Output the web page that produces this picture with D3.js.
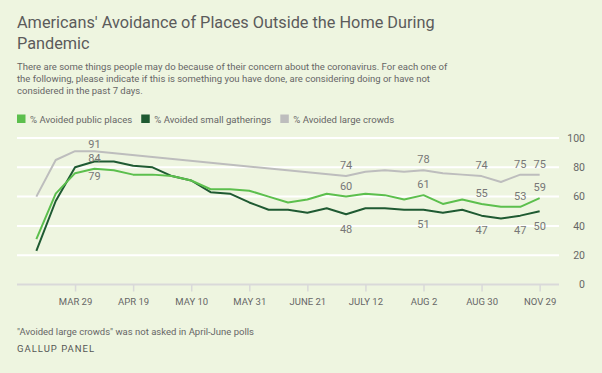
<!DOCTYPE html>
<html>
<head>
<meta charset="utf-8">
<script src="https://cdn.jsdelivr.net/npm/d3@7"></script>
<style>
  body { margin: 0; background: #eef5e0; }
  svg { display: block; font-family: Roboto, "Noto Sans", sans-serif; }
</style>
</head>
<body>
<div id="chart"></div>
<script>
const width = 602,
height = 373,
plot = { left: 17, right: 559, top: 138, bottom: 284.5 };

// poll waves (only some are shown as ticks)
const waves = ["MAR 15", "MAR 22", "MAR 29", "APR 5", "APR 12", "APR 19", "APR 26", "MAY 3", "MAY 10",
  "MAY 17", "MAY 24", "MAY 31", "JUNE 7", "JUNE 14", "JUNE 21", "JUNE 28", "JULY 5", "JULY 12",
  "JULY 19", "JULY 26", "AUG 2", "AUG 9", "AUG 16", "AUG 30", "SEP 27", "OCT 25", "NOV 29"];
const tickWaves = ["MAR 29", "APR 19", "MAY 10", "MAY 31", "JUNE 21", "JULY 12", "AUG 2", "AUG 30", "NOV 29"];
const yTicks = [0, 20, 40, 60, 80, 100];

const publicPlaces = [31, 62, 76, 79, 78, 75, 75, 74, 71, 65, 65, 64, 60, 56, 58, 62, 60, 62, 61, 58, 61, 55, 58, 55, 53, 53, 59];
const smallGatherings = [23, 57, 80, 84, 84, 81, 80, 74, 71, 63, 62, 56, 51, 51, 49, 52, 48, 52, 52, 51, 51, 49, 51, 47, 45, 47, 50];
// large crowds not asked in April-June polls
const largeCrowds = [60, 85, 91, 91, null, null, null, null, null, null, null, null, null, null, null, null,
  74, 77, 78, 77, 78, 76, 75, 74, 70, 75, 75];

// waves that carry value labels
const labelledWaves = ["APR 5", "JULY 5", "AUG 2", "AUG 30", "OCT 25", "NOV 29"];

const series = [
  { name: "% Avoided public places", values: publicPlaces, color: "#5cbf4d" },
  { name: "% Avoided small gatherings", values: smallGatherings, color: "#1f5a32" },
  { name: "% Avoided large crowds", values: largeCrowds, color: "#bdbdbd" }];

const svg = d3.select("#chart").
append("svg").
attr("width", width).
attr("height", height);

svg.append("rect").
attr("width", width).
attr("height", height).
attr("fill", "#eef5e0");

const x = d3.scalePoint().
domain(waves).
range([plot.left, plot.right]).
padding(1);

const y = d3.scaleLinear().
domain([0, 100]).
range([plot.bottom, plot.top]);

// title + subtitle
svg.append("text").
attr("x", 17).attr("y", 28).
attr("fill", "#5b5b5b").
style("font-size", "16.3px").
text("Americans' Avoidance of Places Outside the Home During");
svg.append("text").
attr("x", 17).attr("y", 48.5).
attr("fill", "#5b5b5b").
style("font-size", "16.3px").
text("Pandemic");

const subtitle = ["There are some things people may do because of their concern about the coronavirus. For each one of",
  "the following, please indicate if this is something you have done, are considering doing or have not",
  "considered in the past 7 days."];
svg.append("g").selectAll("text").
data(subtitle).
join("text").
attr("x", 17).
attr("y", (d, i) => 69.5 + i * 12.2).
attr("fill", "#666").
style("font-size", "9.5px").
text(d => d);

// legend
const legend = svg.append("g").attr("transform", "translate(17,119)");
let lx = 0;
series.forEach(s => {
  legend.append("rect").
  attr("x", lx).attr("y", -4.5).
  attr("width", 8.5).attr("height", 8.5).
  attr("fill", s.color);
  const t = legend.append("text").
  attr("x", lx + 13).attr("y", 3.5).
  attr("fill", "#666").
  style("font-size", "9.6px").
  text(s.name);
  lx += 13 + t.node().getComputedTextLength() + 9;
});

// grid
svg.append("g").selectAll("line").
data(yTicks.filter(d => d > 0)).
join("line").
attr("x1", plot.left).attr("x2", plot.right).
attr("y1", d => y(d)).attr("y2", d => y(d)).
attr("stroke", "#fff").
attr("stroke-width", 2);

// y labels on the right
svg.append("g").selectAll("text").
data(yTicks).
join("text").
attr("x", 585).
attr("y", d => y(d) + 3.8).
attr("text-anchor", "end").
attr("fill", "#666").
style("font-size", "10.5px").
text(d => d);

// x axis
const xAxis = svg.append("g").
attr("transform", `translate(0,${plot.bottom})`).
call(d3.axisBottom(x).tickValues(tickWaves).tickSize(7).tickPadding(7));
xAxis.select(".domain").remove();
xAxis.insert("line", ":first-child").
attr("x1", plot.left).attr("x2", plot.right).
attr("stroke", "#d9d9d9").
attr("stroke-width", 2);
xAxis.selectAll(".tick line").attr("stroke", "#d9d9d9").attr("stroke-width", 1.5);
xAxis.selectAll(".tick text").
attr("fill", "#666").
style("font-size", "9.5px").
style("font-family", "Roboto, sans-serif");

// lines
const line = d3.line().
defined(d => d.v != null).
x(d => x(d.w)).
y(d => y(d.v));

series.slice().reverse().forEach(s => {
  const pts = waves.map((w, i) => ({ w, v: s.values[i] })).filter(d => d.v != null);
  svg.append("path").
  datum(pts).
  attr("d", line).
  attr("fill", "none").
  attr("stroke", s.color).
  attr("stroke-width", 2).
  attr("stroke-linejoin", "round");
});

// value labels
const first = labelledWaves[0];
function labelOffset(name, w) {
  if (w === first) {
    if (name === series[2].name) return -3;
    if (name === series[1].name) return 0.5;
    return 11.5;
  }
  return name === series[1].name ? 18.5 : -7;
}
series.forEach(s => {
  svg.append("g").selectAll("text").
  data(labelledWaves).
  join("text").
  attr("x", w => x(w)).
  attr("y", w => y(s.values[waves.indexOf(w)]) + labelOffset(s.name, w)).
  attr("text-anchor", "middle").
  attr("fill", "#777").
  style("font-size", "11px").
  text(w => s.values[waves.indexOf(w)]);
});

// footer
svg.append("text").
attr("x", 17).attr("y", 334.5).
attr("fill", "#666").
style("font-size", "9.5px").
text("\"Avoided large crowds\" was not asked in April-June polls");
svg.append("text").
attr("x", 17).attr("y", 352).
attr("fill", "#555").
style("font-size", "9.5px").
style("letter-spacing", "1px").
text("GALLUP PANEL");
</script>
</body>
</html>
